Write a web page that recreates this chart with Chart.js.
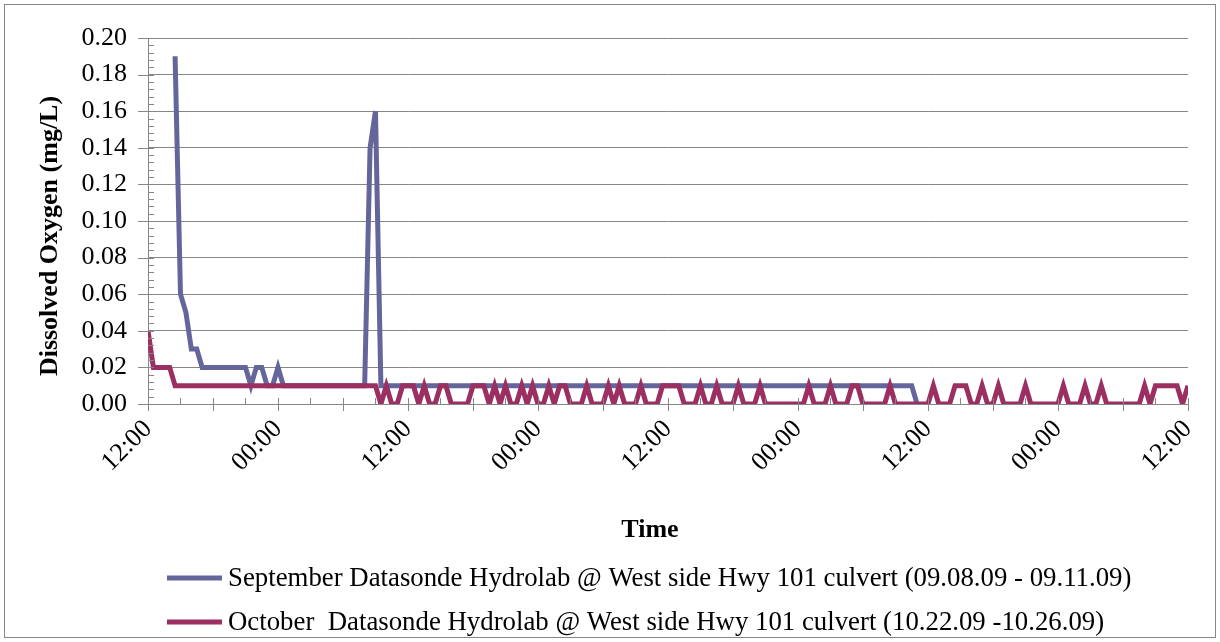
<!DOCTYPE html>
<html>
<head>
<meta charset="utf-8">
<title>Dissolved Oxygen</title>
<script src="https://cdn.jsdelivr.net/npm/chart.js@4.4.1/dist/chart.umd.min.js"></script>
<style>
  html, body { margin: 0; padding: 0; background: #fff; }
  canvas { display: block; }
</style>
</head>
<body>
<canvas id="chart" width="1220" height="642"></canvas>
<script>
// readings every 30 minutes, hours counted from the first 12:00 on the axis
let sampleStep = 0.5;
let septStart = 2.5;

// September run, mg/L
let septDO = [
  0.19, 0.06, 0.05, 0.03, 0.03, 0.02, 0.02, 0.02, 0.02, 0.02,
  0.02, 0.02, 0.02, 0.02, 0.01, 0.02, 0.02, 0.01, 0.01, 0.02,
  0.01, 0.01, 0.01, 0.01, 0.01, 0.01, 0.01, 0.01, 0.01, 0.01,
  0.01, 0.01, 0.01, 0.01, 0.01, 0.01, 0.14, 0.16, 0.01, 0.01,
  0.01, 0.01, 0.01, 0.01, 0.01, 0.01, 0.01, 0.01, 0.01, 0.01,
  0.01, 0.01, 0.01, 0.01, 0.01, 0.01, 0.01, 0.01, 0.01, 0.01,
  0.01, 0.01, 0.01, 0.01, 0.01, 0.01, 0.01, 0.01, 0.01, 0.01,
  0.01, 0.01, 0.01, 0.01, 0.01, 0.01, 0.01, 0.01, 0.01, 0.01,
  0.01, 0.01, 0.01, 0.01, 0.01, 0.01, 0.01, 0.01, 0.01, 0.01,
  0.01, 0.01, 0.01, 0.01, 0.01, 0.01, 0.01, 0.01, 0.01, 0.01,
  0.01, 0.01, 0.01, 0.01, 0.01, 0.01, 0.01, 0.01, 0.01, 0.01,
  0.01, 0.01, 0.01, 0.01, 0.01, 0.01, 0.01, 0.01, 0.01, 0.01,
  0.01, 0.01, 0.01, 0.01, 0.01, 0.01, 0.01, 0.01, 0.01, 0.01,
  0.01, 0.01, 0.01, 0.01, 0.01, 0.01, 0.01, 0.00
];

// October run, mg/L
let octDO = [
  0.04, 0.02, 0.02, 0.02, 0.02, 0.01, 0.01, 0.01, 0.01, 0.01,
  0.01, 0.01, 0.01, 0.01, 0.01, 0.01, 0.01, 0.01, 0.01, 0.01,
  0.01, 0.01, 0.01, 0.01, 0.01, 0.01, 0.01, 0.01, 0.01, 0.01,
  0.01, 0.01, 0.01, 0.01, 0.01, 0.01, 0.01, 0.01, 0.01, 0.01,
  0.01, 0.01, 0.01, 0.00, 0.01, 0.00, 0.00, 0.01, 0.01, 0.01,
  0.00, 0.01, 0.00, 0.00, 0.01, 0.01, 0.00, 0.00, 0.00, 0.00,
  0.01, 0.01, 0.01, 0.00, 0.01, 0.00, 0.01, 0.00, 0.00, 0.01,
  0.00, 0.01, 0.00, 0.00, 0.01, 0.00, 0.01, 0.01, 0.00, 0.00,
  0.00, 0.01, 0.00, 0.00, 0.00, 0.01, 0.00, 0.01, 0.00, 0.00,
  0.00, 0.01, 0.00, 0.00, 0.00, 0.01, 0.01, 0.01, 0.01, 0.00,
  0.00, 0.00, 0.01, 0.00, 0.00, 0.01, 0.00, 0.00, 0.00, 0.01,
  0.00, 0.00, 0.00, 0.01, 0.00, 0.00, 0.00, 0.00, 0.00, 0.00,
  0.00, 0.00, 0.01, 0.00, 0.00, 0.00, 0.01, 0.00, 0.00, 0.00,
  0.01, 0.01, 0.00, 0.00, 0.00, 0.00, 0.00, 0.01, 0.00, 0.00,
  0.00, 0.00, 0.00, 0.00, 0.00, 0.01, 0.00, 0.00, 0.00, 0.01,
  0.01, 0.01, 0.00, 0.00, 0.01, 0.00, 0.00, 0.01, 0.00, 0.00,
  0.00, 0.00, 0.01, 0.00, 0.00, 0.00, 0.00, 0.00, 0.00, 0.01,
  0.00, 0.00, 0.00, 0.01, 0.00, 0.00, 0.01, 0.00, 0.00, 0.00,
  0.00, 0.00, 0.00, 0.00, 0.01, 0.00, 0.01, 0.01, 0.01, 0.01,
  0.01, 0.00, 0.01
];

let timeLabels = ['12:00', '00:00', '12:00', '00:00', '12:00', '00:00', '12:00', '00:00', '12:00'];

let septName = 'September Datasonde Hydrolab @ West side Hwy 101 culvert (09.08.09 - 09.11.09)';
let octName = 'October  Datasonde Hydrolab @ West side Hwy 101 culvert (10.22.09 -10.26.09)';

let septColor = '#64669b';
let octColor = '#9b2f62';
let axisGray = '#868686';
let serif = '"Liberation Serif", "Times New Roman", serif';

function toPoints(values, start) {
  return values.map(function (v, i) {
    return { x: start + i * sampleStep, y: v };
  });
}

// tick marks, titles, legend and frame drawn by hand
let extras = {
  id: 'extras',
  afterDraw(chart) {
    let ctx = chart.ctx;
    let a = chart.chartArea;
    let xs = chart.scales.x;
    let ys = chart.scales.y;
    ctx.save();
    ctx.strokeStyle = axisGray;
    ctx.lineWidth = 1;

    // outer frame
    ctx.strokeRect(4.5, 4.5, 1211, 633);

    ctx.beginPath();
    for (let k = 0; k <= 50; k++) {
      let py = Math.round(ys.getPixelForValue(k * 0.004)) + 0.5;
      let left = (k % 5 === 0) ? a.left - 10 : a.left;
      ctx.moveTo(left, py);
      ctx.lineTo(a.left + 6, py);
    }
    for (let h = 0; h <= 96; h += 3) {
      let px = Math.round(xs.getPixelForValue(h)) + 0.5;
      let bottom = (h % 6 === 0) ? a.bottom + 7 : a.bottom;
      ctx.moveTo(px, a.bottom - 6);
      ctx.lineTo(px, bottom);
    }
    ctx.stroke();

    ctx.fillStyle = '#000';
    ctx.font = 'bold 26px ' + serif;
    ctx.textAlign = 'center';
    ctx.textBaseline = 'middle';
    ctx.fillText('Time', 650, 530);
    ctx.save();
    ctx.translate(50, 236);
    ctx.rotate(-Math.PI / 2);
    ctx.fillText('Dissolved Oxygen (mg/L)', 0, 0);
    ctx.restore();

    // legend, one series per row
    let rows = [[septName, septColor, 578], [octName, octColor, 622]];
    ctx.font = '26.8px ' + serif;
    ctx.textAlign = 'left';
    rows.forEach(function (r) {
      ctx.strokeStyle = r[1];
      ctx.lineWidth = 5;
      ctx.beginPath();
      ctx.moveTo(167, r[2]);
      ctx.lineTo(222, r[2]);
      ctx.stroke();
      ctx.fillText(r[0], 228, r[2] + 1);
    });
    ctx.restore();
  }
};

let canvas = document.getElementById('chart');

let chart = new Chart(canvas, {
  type: 'line',
  data: {
    datasets: [{
      label: septName,
      data: toPoints(septDO, septStart),
      borderColor: septColor,
      borderWidth: 5,
      pointRadius: 0,
      tension: 0,
      order: 2
    }, {
      label: octName,
      data: toPoints(octDO, 0),
      borderColor: octColor,
      borderWidth: 5,
      pointRadius: 0,
      tension: 0,
      order: 1
    }]
  },
  options: {
    responsive: false,
    animation: false,
    devicePixelRatio: 1,
    layout: { padding: { left: 0, right: 30, top: 38, bottom: 97 } },
    plugins: {
      legend: { display: false },
      tooltip: { enabled: false }
    },
    scales: {
      x: {
        type: 'linear',
        min: 0,
        max: 96,
        afterFit(s) { s.height = 141; },
        grid: { drawOnChartArea: false, drawTicks: false },
        border: { color: axisGray },
        ticks: {
          stepSize: 6,
          autoSkip: false,
          minRotation: 45,
          maxRotation: 45,
          padding: 10,
          color: '#000',
          font: { family: serif, size: 26 },
          callback: function (v) { return v % 12 === 0 ? timeLabels[v / 12] : ''; }
        }
      },
      y: {
        min: 0,
        max: 0.2,
        afterFit(s) { s.width = 148; },
        grid: { color: axisGray, drawTicks: false },
        border: { color: axisGray },
        ticks: {
          stepSize: 0.02,
          padding: 21,
          color: '#000',
          font: { family: serif, size: 26 },
          callback: function (v) { return v.toFixed(2); }
        }
      }
    }
  },
  plugins: [extras]
});
</script>
</body>
</html>
